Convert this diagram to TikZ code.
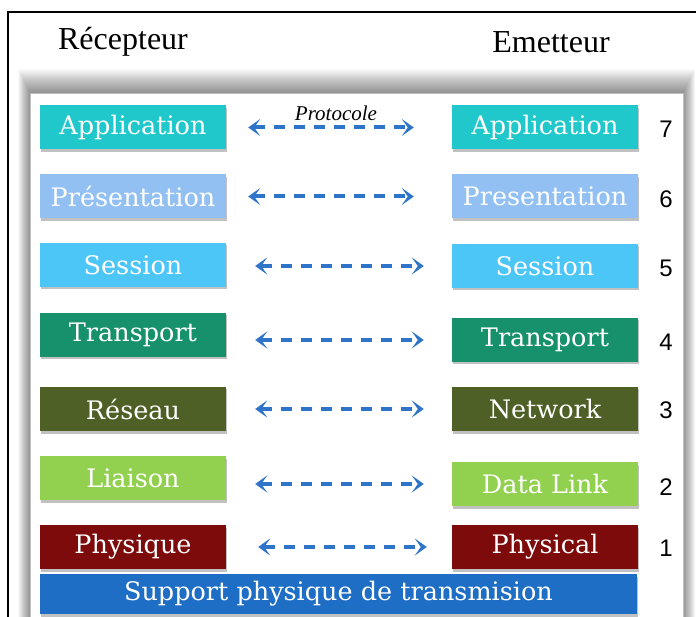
\documentclass[tikz,border=0pt]{standalone}
\usepackage{fontspec}
\setmainfont{Liberation Serif}
\newfontfamily\boxfont{DejaVu Serif}
\newfontfamily\numfont{Liberation Sans}
\usetikzlibrary{arrows.meta,shadows}
\definecolor{cApp}{HTML}{20C8CB}
\definecolor{cPres}{HTML}{92C0F2}
\definecolor{cSess}{HTML}{4CC5F7}
\definecolor{cTrans}{HTML}{17906C}
\definecolor{cNet}{HTML}{4E6025}
\definecolor{cLink}{HTML}{92D050}
\definecolor{cPhys}{HTML}{7D0B0B}
\definecolor{cSupp}{HTML}{1E6EC6}
\definecolor{cArrow}{HTML}{2E74C8}
\begin{document}
\begin{tikzpicture}[x=1pt,y=-1pt,
  layerbox/.style={minimum width=186pt, minimum height=44pt, inner sep=0pt,
    text=white, font=\boxfont\fontsize{25.5}{25.5}\selectfont,
    drop shadow={shadow xshift=1pt, shadow yshift=-2.5pt, fill=black!60, opacity=0.4}},
  numlabel/.style={font=\numfont\fontsize{24}{24}\selectfont, inner sep=0pt},
  headlabel/.style={font=\fontsize{32}{32}\selectfont, inner sep=0pt},
  proto/.style={draw=cArrow, line width=4pt, dash pattern=on 11pt off 9pt,
    {Stealth[length=12pt,width=17pt,inset=6pt]}-{Stealth[length=12pt,width=17pt,inset=6pt]}}
]
\useasboundingbox (0,0) rectangle (696,617);
\fill[white] (0,0) rectangle (696,617);
% outer frame
\coordinate (ftl) at (8,12);
\coordinate (ftr) at (696,12);
\coordinate (fbl) at (8,617);
\draw[line width=1.2pt] (ftr) -- (ftl) -- (fbl);
% headers
\node[headlabel] (hrec) at (123,42) {Récepteur};
\node[headlabel] (hemi) at (551,42) {Emetteur};
% panel with soft shadow
\foreach \i in {1,...,24} {
  \fill[black, opacity=0.018] (30-\i*0.5,93-\i*1.0) rectangle (683+\i*0.5,625);
}
\fill[white] (30,93) rectangle (683,625);
\draw[black!25, line width=0.8pt] (30,625) -- (30,93) -- (683,93) -- (683,625);
% left column
\node[layerbox, fill=cApp]   (L7) at (133,127.5) {Application};
\node[layerbox, fill=cPres]  (L6) at (133,196.5) {Présentation};
\node[layerbox, fill=cSess]  (L5) at (133,265)   {Session};
\node[layerbox, fill=cTrans] (L4) at (133,335)   {Transport};
\node[layerbox, fill=cNet]   (L3) at (133,409)   {Réseau};
\node[layerbox, fill=cLink]  (L2) at (133,478)   {Liaison};
\node[layerbox, fill=cPhys]  (L1) at (133,547)   {Physique};
% right column
\node[layerbox, fill=cApp]   (R7) at (545,127.5) {Application};
\node[layerbox, fill=cPres]  (R6) at (545,196.5) {Presentation};
\node[layerbox, fill=cSess]  (R5) at (545,266)   {Session};
\node[layerbox, fill=cTrans] (R4) at (545,340)   {Transport};
\node[layerbox, fill=cNet]   (R3) at (545,409)   {Network};
\node[layerbox, fill=cLink]  (R2) at (545,484)   {Data Link};
\node[layerbox, fill=cPhys]  (R1) at (545,547)   {Physical};
% support
\node[layerbox, fill=cSupp, minimum width=597pt, minimum height=40pt] (sup) at (338.5,594) {Support physique de transmision};
% numbers
\node[numlabel] (n7) at (666,129) {7};
\node[numlabel] (n6) at (666,199) {6};
\node[numlabel] (n5) at (666,268) {5};
\node[numlabel] (n4) at (666,342) {4};
\node[numlabel] (n3) at (666,410) {3};
\node[numlabel] (n2) at (666,487) {2};
\node[numlabel] (n1) at (666,548) {1};
% protocol arrows
\draw[proto, shorten <=22pt, shorten >=38pt] (L7.east |- R7.west) -- (R7.west);
\draw[proto, shorten <=22pt, shorten >=38pt] (L6.east |- R6.west) -- (R6.west);
\draw[proto, shorten <=29pt, shorten >=28pt] (L5.east |- R5.west) -- (R5.west);
\draw[proto, shorten <=29pt, shorten >=28pt] (L4.east |- R4.west) -- (R4.west);
\draw[proto, shorten <=29pt, shorten >=28pt] (L3.east |- R3.west) -- (R3.west);
\draw[proto, shorten <=29pt, shorten >=28pt] (L2.east |- R2.west) -- (R2.west);
\draw[proto, shorten <=32pt, shorten >=25pt] (L1.east |- R1.west) -- (R1.west);
\node[font=\itshape\fontsize{21}{21}\selectfont, inner sep=0pt] (plabel) at (336,113) {Protocole};
\end{tikzpicture}
\end{document}
